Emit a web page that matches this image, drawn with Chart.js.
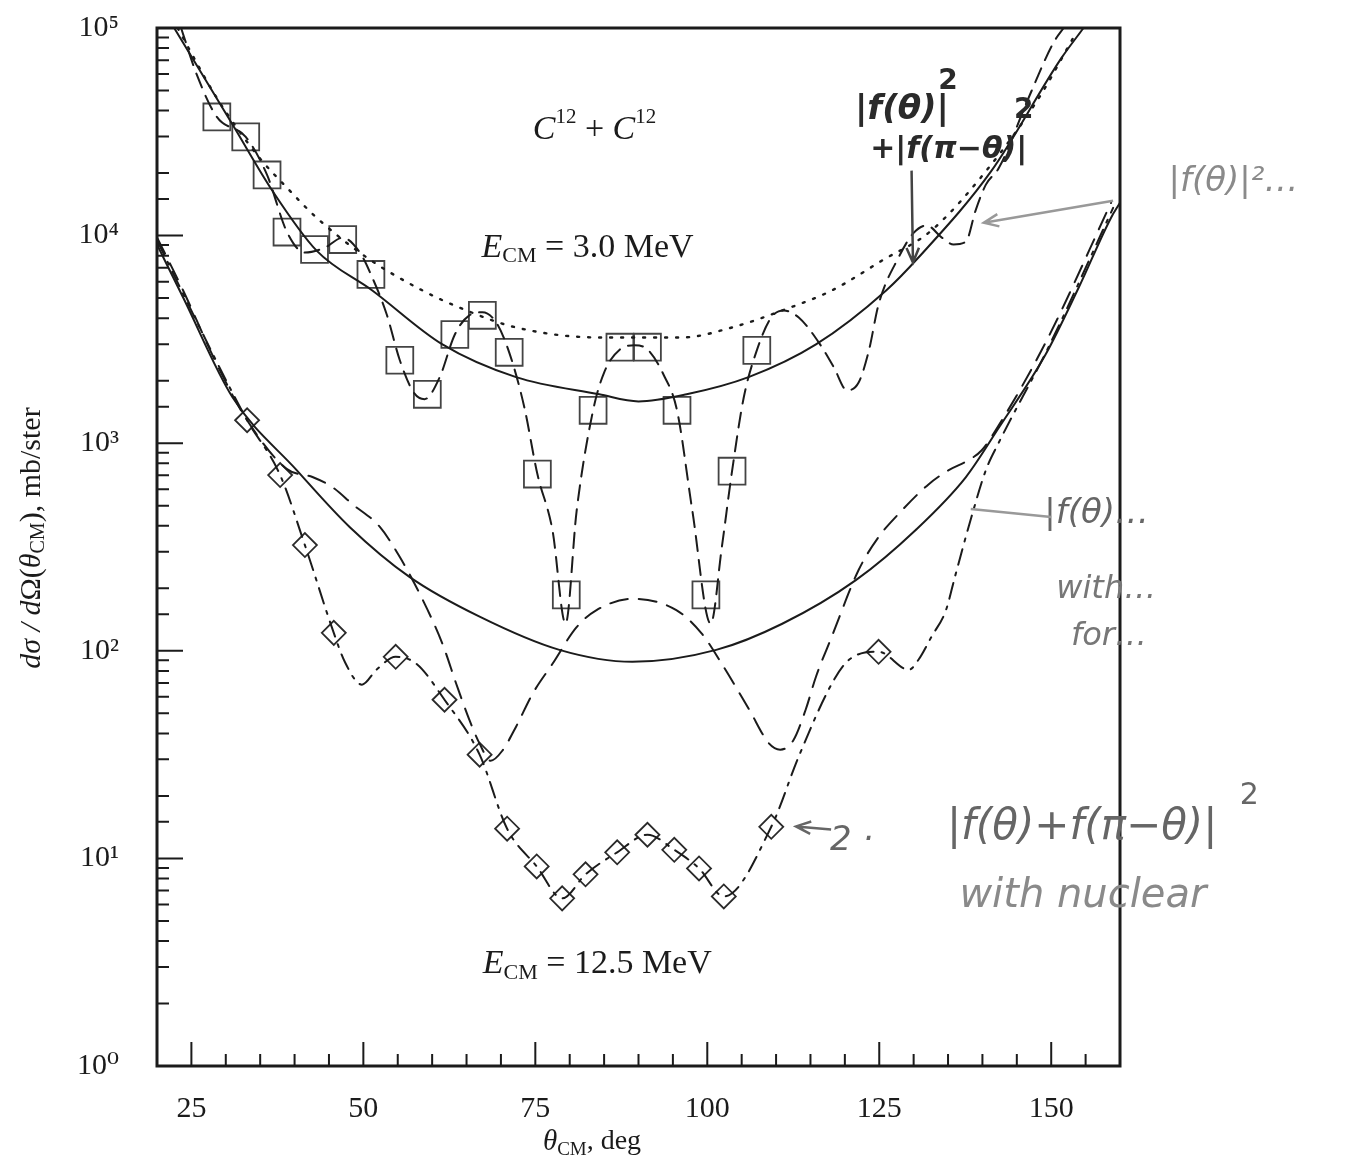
<!DOCTYPE html>
<html>
<head>
<meta charset="utf-8">
<script src="https://cdn.jsdelivr.net/npm/chart.js@4.4.1/dist/chart.umd.min.js"></script>
<style>
  html, body { margin: 0; padding: 0; background: #fff; }
</style>
</head>
<body>
<canvas id="chart" width="1347" height="1166"></canvas>
<script>
// --- Data (theta in deg, cross-section in mb/ster) ---

// E_CM = 3.0 MeV, measured points (squares)
const sq3Deg = [28.7, 32.9, 36.0, 38.9, 42.9, 47.0, 51.1, 55.3, 59.3, 63.3, 67.3, 71.2, 75.3, 79.5, 83.4, 87.3, 91.3, 95.6, 99.8, 103.6, 107.2];
const sq3Val = [37300, 29900, 19600, 10400, 8570, 9570, 6500, 2510, 1720, 3340, 4130, 2740, 710, 186, 1440, 2900, 2900, 1440, 186, 733, 2800];

// E_CM = 3.0 MeV, solid curve
const solid3Deg = [22.5, 31.0, 36.8, 43.2, 51.3, 61.5, 72.2, 84.3, 90.0, 97.0, 106.0, 115.8, 126.0, 130.7, 141.3, 151.5, 154.7];
const solid3Val = [100000, 34200, 16400, 8470, 5440, 2990, 2080, 1720, 1590, 1720, 2080, 2990, 5440, 7840, 20500, 71800, 100000];

// E_CM = 3.0 MeV, dotted curve
const dot3Deg = [23.0, 28.7, 34.9, 38.9, 43.2, 50.5, 58.6, 65.0, 72.2, 84.3, 96.3, 103.6, 110.9, 118.1, 125.4, 132.6, 140.9, 148.2, 153.2];
const dot3Val = [100000, 46000, 23700, 17000, 12200, 7840, 5440, 4360, 3610, 3230, 3230, 3610, 4360, 5440, 7580, 10600, 21200, 46000, 89600];

// E_CM = 3.0 MeV, dashed curve
const dash3Deg = [23.5, 25.8, 28.7, 32.9, 36.0, 38.9, 41.5, 44.4, 47.0, 49.5, 51.1, 53.4, 55.3, 57.3, 58.9, 61.1, 63.3, 65.4, 67.3, 69.3, 71.2, 73.4, 75.3, 77.5, 79.4, 81.0, 83.4, 85.0, 87.3, 89.4, 91.3, 93.7, 95.6, 97.8, 100.5, 102.1, 103.6, 105.3, 107.2, 109.3, 111.1, 113.3, 116.2, 118.4, 120.3, 122.0, 123.5, 124.9, 127.8, 130.0, 131.9, 134.1, 135.8, 137.6, 139.0, 140.5, 142.4, 146.7, 150.3, 151.8];
const dash3Val = [100000, 59400, 37300, 29900, 19600, 10400, 8280, 8750, 9770, 8280, 6500, 4170, 2510, 1760, 1630, 2080, 3340, 4130, 4270, 3820, 2740, 1490, 710, 380, 135, 470, 1440, 2190, 2830, 2960, 2830, 2120, 1440, 480, 135, 313, 733, 1660, 2800, 4030, 4360, 4030, 3060, 2320, 1800, 1960, 2800, 4660, 7840, 10300, 11200, 9780, 9060, 9350, 13200, 17600, 21200, 46000, 84700, 100000];

// E_CM = 12.5 MeV, measured points (diamonds)
const dm12Deg = [33.1, 37.9, 41.5, 45.7, 54.7, 61.8, 66.9, 70.9, 75.2, 78.9, 82.3, 86.9, 91.3, 95.2, 98.8, 102.4, 109.3, 124.9];
const dm12Val = [1290, 702, 323, 122, 93.6, 58.1, 31.6, 13.9, 9.15, 6.42, 8.38, 10.7, 13.0, 11.0, 8.95, 6.56, 14.2, 98.9];

// E_CM = 12.5 MeV, solid curve
const solid12Deg = [20, 23.8, 31.0, 40.3, 48.0, 56.7, 66.9, 78.5, 89.1, 101.3, 110.9, 121.6, 130.3, 137.6, 142.4, 149.2, 154.0, 158.7, 160];
const solid12Val = [9060, 5030, 1660, 742, 395, 227, 146, 101, 88.5, 101, 135, 219, 382, 687, 1190, 2680, 5620, 12200, 14400];

// E_CM = 12.5 MeV, dashed curve
const dash12Deg = [20, 23.8, 28.7, 33.1, 38.9, 42.6, 45.5, 48.4, 52.4, 55.3, 58.2, 61.5, 63.5, 65.4, 66.9, 68.5, 70.2, 72.2, 74.6, 77.5, 81.0, 83.9, 89.1, 95.5, 99.2, 102.1, 106.1, 109.0, 110.6, 112.5, 114.3, 115.8, 118.1, 122.0, 124.9, 127.8, 132.2, 135.1, 138.0, 139.9, 141.9, 149.2, 158.7];
const dash12Val = [9800, 5440, 2400, 1290, 750, 687, 614, 509, 395, 283, 188, 108, 69.4, 46.6, 35.7, 29.5, 33, 43.1, 62.1, 86.6, 130, 157, 178, 157, 121, 86.6, 52, 35.7, 33.4, 37, 52, 75, 117, 245, 353, 456, 635, 742, 829, 925, 1150, 3060, 14400];

// E_CM = 12.5 MeV, dash-dot curve
const dd12Deg = [20, 26.2, 30.2, 33.1, 37.9, 41.5, 45.7, 47.3, 49.8, 51.9, 54.7, 57.7, 61.8, 66.9, 70.9, 75.2, 78.9, 82.3, 86.9, 91.3, 95.2, 98.8, 102.4, 109.3, 113.3, 118.1, 120.6, 124.9, 129.3, 130.7, 132.6, 134.7, 136.0, 138.4, 140.5, 142.4, 149.6, 159.0];
const dd12Val = [9500, 3610, 1960, 1290, 702, 323, 122, 88.5, 68.7, 81, 93.6, 86.6, 58.1, 31.6, 13.9, 9.15, 6.42, 8.38, 10.7, 13.0, 11.0, 8.95, 6.56, 14.2, 31, 69.4, 90.5, 99, 81, 90.5, 117, 157, 227, 441, 742, 1010, 2900, 13600];

// axis ticks
const xMajorTicks = [25, 50, 75, 100, 125, 150];
const yDecades = [0, 1, 2, 3, 4, 5];

const SERIF = "'Liberation Serif', 'DejaVu Serif', serif";
const HAND = "'DejaVu Sans', 'Noto Sans', sans-serif";
const INK = '#1b1b1b';
const SUP = ['⁰', '¹', '²', '³', '⁴', '⁵'];

const toXY = (xs, ys) => xs.map((x, i) => ({ x: x, y: ys[i] }));

function lineSet(xs, ys, dash, width) {
    return {
        data: toXY(xs, ys),
        borderColor: INK,
        borderWidth: width || 2,
        borderDash: dash,
        borderCapStyle: 'round',
        pointRadius: 0,
        fill: false,
        cubicInterpolationMode: 'monotone',
        tension: 0.4
    };
}

function pointSet(xs, ys, style, radius, color) {
    return {
        data: toXY(xs, ys),
        showLine: false,
        pointStyle: style,
        pointRadius: radius,
        pointBorderColor: color,
        pointBackgroundColor: 'rgba(0,0,0,0)',
        pointBorderWidth: 1.8
    };
}

// --- rich text helpers (sub/superscripts) ---
function richWidth(ctx, parts) {
    let w = 0;
    parts.forEach(p => { ctx.font = p.f; w += ctx.measureText(p.t).width; });
    return w;
}

function drawRich(ctx, parts, cx, cy, color) {
    let x = cx - richWidth(ctx, parts) / 2;
    ctx.textAlign = 'left';
    ctx.textBaseline = 'middle';
    parts.forEach(p => {
        ctx.font = p.f;
        ctx.fillStyle = p.c || color || INK;
        ctx.fillText(p.t, x, cy + (p.dy || 0));
        x += ctx.measureText(p.t).width;
    });
}

function arrow(ctx, x0, y0, x1, y1, color, head) {
    ctx.save();
    ctx.strokeStyle = color;
    ctx.lineWidth = 2.5;
    ctx.beginPath();
    ctx.moveTo(x0, y0);
    ctx.lineTo(x1, y1);
    if (head) {
        const a = Math.atan2(y1 - y0, x1 - x0);
        ctx.moveTo(x1 - 16 * Math.cos(a - 0.4), y1 - 16 * Math.sin(a - 0.4));
        ctx.lineTo(x1, y1);
        ctx.lineTo(x1 - 16 * Math.cos(a + 0.4), y1 - 16 * Math.sin(a + 0.4));
    }
    ctx.stroke();
    ctx.restore();
}

// annotation anchors in data units: [deg, log10(value)]
const labelC12 = [83.6, 4.51];
const labelE3 = [82.6, 3.942];
const labelE12 = [84.0, 0.49];

const framePlugin = {
    id: 'frame',
    afterDraw(chart) {
        const { ctx, chartArea: a, scales: { x, y } } = chart;
        const P = (d, l) => [x.getPixelForValue(d), y.getPixelForValue(Math.pow(10, l))];

        ctx.save();
        // inward tick marks
        ctx.strokeStyle = INK;
        ctx.lineWidth = 2;
        ctx.beginPath();
        y.ticks.forEach(t => {
            const l = Math.log10(t.value);
            const major = yDecades.includes(Math.round(l)) && Math.abs(l - Math.round(l)) < 1e-9;
            const py = y.getPixelForValue(t.value);
            ctx.moveTo(a.left, py);
            ctx.lineTo(a.left + (major ? 26 : 12), py);
        });
        x.ticks.forEach(t => {
            if (t.value <= x.min || t.value >= x.max) return;
            const px = x.getPixelForValue(t.value);
            ctx.moveTo(px, a.bottom);
            ctx.lineTo(px, a.bottom - (xMajorTicks.includes(t.value) ? 24 : 12));
        });
        ctx.stroke();

        // frame
        ctx.lineWidth = 3;
        ctx.strokeRect(a.left, a.top, a.right - a.left, a.bottom - a.top);

        // axis titles
        drawRich(ctx, [
            { t: 'θ', f: `italic 29px ${SERIF}` },
            { t: 'CM', f: `19px ${SERIF}`, dy: 8 },
            { t: ', deg', f: `28px ${SERIF}` }
        ], 592, 1142);

        ctx.save();
        ctx.translate(32, 538);
        ctx.rotate(-Math.PI / 2);
        drawRich(ctx, [
            { t: 'dσ / d', f: `italic 30px ${SERIF}` },
            { t: 'Ω(', f: `30px ${SERIF}` },
            { t: 'θ', f: `italic 30px ${SERIF}` },
            { t: 'CM', f: `20px ${SERIF}`, dy: 7 },
            { t: '), mb/ster', f: `30px ${SERIF}` }
        ], 0, 0);
        ctx.restore();

        // printed labels
        let p = P(labelC12[0], labelC12[1]);
        drawRich(ctx, [
            { t: 'C', f: `italic 34px ${SERIF}` },
            { t: '12', f: `21px ${SERIF}`, dy: -12 },
            { t: ' + ', f: `34px ${SERIF}` },
            { t: 'C', f: `italic 34px ${SERIF}` },
            { t: '12', f: `21px ${SERIF}`, dy: -12 }
        ], p[0], p[1]);
        p = P(labelE3[0], labelE3[1]);
        drawRich(ctx, [
            { t: 'E', f: `italic 34px ${SERIF}` },
            { t: 'CM', f: `22px ${SERIF}`, dy: 9 },
            { t: ' = 3.0 MeV', f: `34px ${SERIF}` }
        ], p[0], p[1]);
        p = P(labelE12[0], labelE12[1]);
        drawRich(ctx, [
            { t: 'E', f: `italic 34px ${SERIF}` },
            { t: 'CM', f: `22px ${SERIF}`, dy: 9 },
            { t: ' = 12.5 MeV', f: `34px ${SERIF}` }
        ], p[0], p[1]);

        // handwritten notes
        const dark = '#2a2a2a', faint = '#8a8a8a';
        p = P(128.3, 4.606);
        drawRich(ctx, [{ t: '|f(θ)|', f: `bold italic 34px ${HAND}` }], p[0], p[1], dark);
        p = P(135.0, 4.74);
        drawRich(ctx, [{ t: '2', f: `bold 28px ${HAND}` }], p[0], p[1], dark);
        p = P(135.1, 4.409);
        drawRich(ctx, [{ t: '+|f(π−θ)|', f: `bold italic 30px ${HAND}` }], p[0], p[1], dark);
        p = P(146.0, 4.6);
        drawRich(ctx, [{ t: '2', f: `bold 28px ${HAND}` }], p[0], p[1], dark);
        let q = P(129.7, 4.313), r = P(129.9, 3.87);
        arrow(ctx, q[0], q[1], r[0], r[1], '#444', true);

        p = P(176.5, 4.255);
        drawRich(ctx, [{ t: '|f(θ)|²…', f: `italic 34px ${HAND}` }], p[0], p[1], faint);
        q = P(159.0, 4.168); r = P(140.2, 4.062);
        arrow(ctx, q[0], q[1], r[0], r[1], '#999', true);

        p = P(156.6, 2.659);
        drawRich(ctx, [{ t: '|f(θ)…', f: `italic 34px ${HAND}` }], p[0], p[1], '#666');
        p = P(158.0, 2.293);
        drawRich(ctx, [{ t: 'with…', f: `italic 32px ${HAND}` }], p[0], p[1], '#777');
        p = P(158.4, 2.067);
        drawRich(ctx, [{ t: 'for…', f: `italic 32px ${HAND}` }], p[0], p[1], '#777');
        q = P(150.0, 2.644); r = P(138.3, 2.683);
        arrow(ctx, q[0], q[1], r[0], r[1], '#999', false);

        q = P(118.0, 1.139); r = P(112.9, 1.154);
        arrow(ctx, q[0], q[1], r[0], r[1], '#666', true);
        p = P(121.0, 1.082);
        drawRich(ctx, [{ t: '2 ·', f: `italic 34px ${HAND}` }], p[0], p[1], '#666');
        p = P(154.5, 1.144);
        drawRich(ctx, [{ t: '|f(θ)+f(π−θ)|', f: `italic 42px ${HAND}` }], p[0], p[1], '#666');
        p = P(178.8, 1.298);
        drawRich(ctx, [{ t: '2', f: `30px ${HAND}` }], p[0], p[1], '#666');
        p = P(154.6, 0.817);
        drawRich(ctx, [{ t: 'with nuclear', f: `italic 40px ${HAND}` }], p[0], p[1], faint);

        ctx.restore();
    }
};

new Chart(document.getElementById('chart'), {
    type: 'line',
    data: {
        datasets: [
            lineSet(solid3Deg, solid3Val, [], 2),
            lineSet(dot3Deg, dot3Val, [2, 9], 2.4),
            lineSet(dash3Deg, dash3Val, [15, 9], 2),
            lineSet(solid12Deg, solid12Val, [], 2),
            lineSet(dash12Deg, dash12Val, [18, 11], 2),
            lineSet(dd12Deg, dd12Val, [16, 8, 3, 8], 2),
            pointSet(sq3Deg, sq3Val, 'rect', 19, '#444'),
            pointSet(dm12Deg, dm12Val, 'rectRot', 12, '#2a2a2a')
        ]
    },
    options: {
        responsive: false,
        animation: false,
        devicePixelRatio: 1,
        layout: { padding: { top: 28, right: 227, left: 0, bottom: 0 } },
        plugins: { legend: { display: false }, tooltip: { enabled: false } },
        scales: {
            x: {
                type: 'linear',
                min: 20,
                max: 160,
                grid: { display: false },
                border: { display: false },
                afterFit: s => { s.height = 100; s.paddingLeft = 0; s.paddingRight = 0; },
                ticks: {
                    stepSize: 5,
                    autoSkip: false,
                    maxRotation: 0,
                    padding: 17,
                    color: INK,
                    font: { family: SERIF, size: 30 },
                    callback: v => (xMajorTicks.includes(v) ? String(v) : '')
                }
            },
            y: {
                type: 'logarithmic',
                min: 1,
                max: 100000,
                grid: { display: false },
                border: { display: false },
                afterFit: s => { s.width = 157; s.paddingTop = 0; s.paddingBottom = 0; },
                ticks: {
                    autoSkip: false,
                    padding: 30,
                    color: INK,
                    font: { family: SERIF, size: 30 },
                    callback: v => {
                        const l = Math.log10(v);
                        const n = Math.round(l);
                        return Math.abs(l - n) < 1e-9 && yDecades.includes(n) ? '10' + SUP[n] : '';
                    }
                }
            }
        }
    },
    plugins: [framePlugin]
});
</script>
</body>
</html>
